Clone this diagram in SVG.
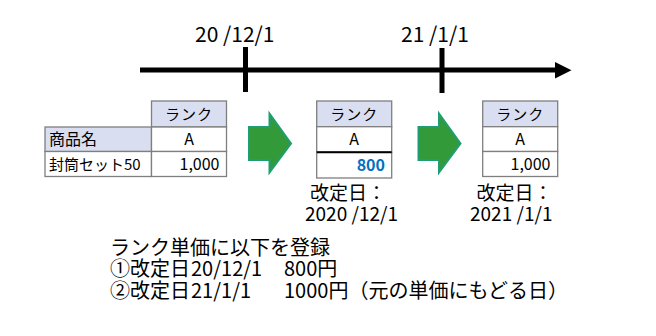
<svg xmlns="http://www.w3.org/2000/svg" width="656" height="336" viewBox="0 0 656 336">
<style>
text{font-family:"Noto Sans CJK JP","Noto Sans",sans-serif;fill:#000}
.hd{fill:#D9DEF0;stroke:#7F7F7F;stroke-width:1.3}
.cl{fill:#FFFFFF;stroke:#7F7F7F;stroke-width:1.3}
.t15{font-size:15px}
.t16{font-size:16px}
.t19{font-size:19px}
.t20{font-size:20px}
.t21{font-size:21px}
.ga{fill:#339A3A;stroke:#1E9E72;stroke-width:2;stroke-linejoin:miter}
</style>
<rect width="656" height="336" fill="#FFFFFF"/>

<g id="timeline">
<line x1="140" y1="70" x2="557" y2="70" stroke="#000" stroke-width="5"/>
<polygon points="555,62 571.5,70.3 555,78.5" fill="#000"/>
<rect x="243" y="47" width="5" height="45" fill="#000"/>
<rect x="439.5" y="48" width="5" height="45" fill="#000"/>
<text class="t21" x="195" y="42">20 /12/1</text>
<text class="t21" x="401" y="42">21 /1/1</text>
</g>

<g id="table-before">
<rect class="hd" x="151.5" y="101" width="75" height="26"/>
<rect class="hd" x="45" y="127" width="106.5" height="24.5"/>
<rect class="cl" x="151.5" y="127" width="75" height="24.5"/>
<rect class="cl" x="45" y="151.5" width="106.5" height="25"/>
<rect class="cl" x="151.5" y="151.5" width="75" height="25"/>
<text class="t15" x="189" y="119.5" text-anchor="middle" letter-spacing="1">ランク</text>
<text class="t16" x="49" y="145">商品名</text>
<text class="t16" x="189" y="145" text-anchor="middle">A</text>
<text class="t15" x="49" y="170">封筒セット50</text>
<text class="t16" x="219.5" y="170" text-anchor="end">1,000</text>
</g>

<g id="arrow-1">
<polygon class="ga" points="249,127 269.5,127 269.5,113.5 291,143.5 269.5,172.5 269.5,160 249,160"/>
</g>

<g id="table-20201201">
<rect class="hd" x="316.7" y="101" width="75" height="25.7"/>
<rect class="cl" x="316.7" y="126.7" width="75" height="25.6"/>
<rect class="cl" x="316.7" y="152.3" width="75" height="25.7"/>
<line x1="316.7" y1="152.3" x2="391.7" y2="152.3" stroke="#000" stroke-width="2"/>
<text class="t15" x="354.2" y="119.5" text-anchor="middle" letter-spacing="1">ランク</text>
<text class="t16" x="354.2" y="145" text-anchor="middle">A</text>
<text class="t16" x="385" y="170.5" text-anchor="end" font-weight="bold" style="fill:#0070C0">800</text>
<text class="t19" x="310" y="200">改定日：</text>
<text class="t19" x="305" y="221">2020 /12/1</text>
</g>

<g id="arrow-2">
<polygon class="ga" points="418.5,127 439,127 439,113.5 460.5,143.5 439,172.5 439,160 418.5,160"/>
</g>

<g id="table-20210101">
<rect class="hd" x="482.7" y="101" width="75" height="25.7"/>
<rect class="cl" x="482.7" y="126.7" width="75" height="24.8"/>
<rect class="cl" x="482.7" y="151.5" width="75" height="25"/>
<text class="t15" x="520.2" y="119.5" text-anchor="middle" letter-spacing="1">ランク</text>
<text class="t16" x="520.2" y="145" text-anchor="middle">A</text>
<text class="t16" x="550.5" y="170" text-anchor="end">1,000</text>
<text class="t19" x="476.5" y="200">改定日：</text>
<text class="t19" x="470" y="221">2021 /1/1</text>
</g>

<g id="note">
<text class="t20" x="110" y="254.5">ランク単価に以下を登録</text>
<text class="t20" y="276"><tspan x="110">①改定日</tspan><tspan x="191">20/12/1</tspan><tspan x="284">800円</tspan></text>
<text class="t20" y="297.5"><tspan x="110">②改定日</tspan><tspan x="191">21/1/1</tspan><tspan x="284">1000円（元の単価にもどる日）</tspan></text>
</g>
</svg>
